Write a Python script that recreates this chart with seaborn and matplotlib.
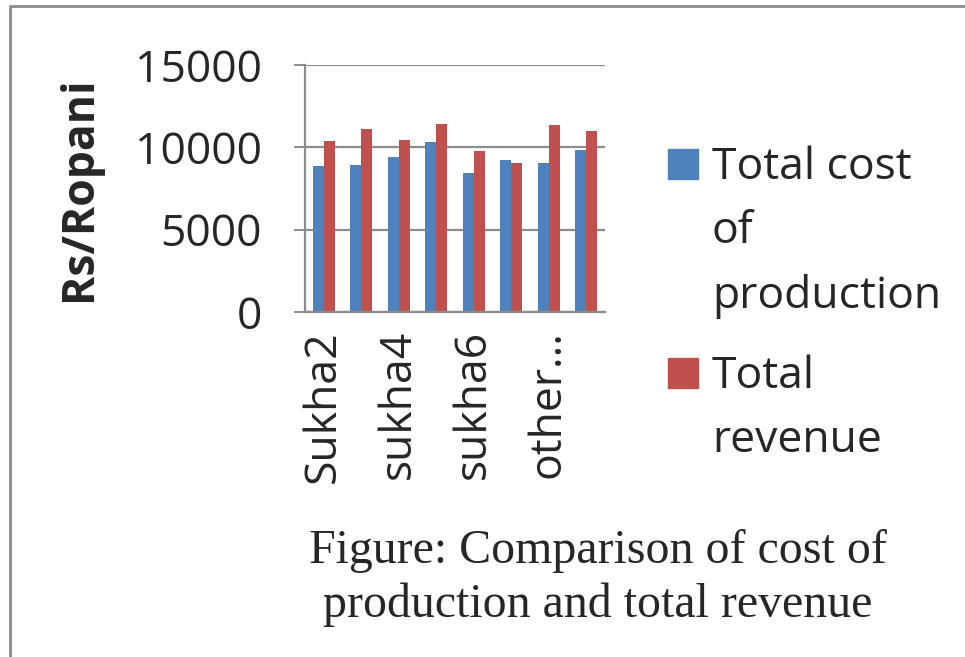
import pandas as pd
import seaborn as sns
import matplotlib.pyplot as plt
from matplotlib.patches import Rectangle
from matplotlib.lines import Line2D

# data (Rs/Ropani)
varieties = ["Sukha2", "sukha3", "sukha4", "sukha5", "sukha6", "sukha7", "other...", "average"]
cost = [8860, 8940, 9420, 10340, 8440, 9260, 9020, 9840]
revenue = [10360, 11100, 10440, 11420, 9800, 9060, 11340, 11000]
series = ["Total cost of production", "Total revenue"]
legend_lines = [["Total cost", "of", "production"], ["Total", "revenue"]]
caption_lines = ["Figure: Comparison of cost of", "production and total revenue"]
colors = ["#4F81BD", "#C0504D"]
y_ticks = [0, 5000, 10000, 15000]

df = pd.DataFrame({
    "variety": varieties * 2,
    "value": cost + revenue,
    "series": [series[0]] * len(varieties) + [series[1]] * len(varieties),
})

sns.set_theme(style="white")
plt.rcParams["font.family"] = ["Open Sans", "DejaVu Sans"]

W, H = 965, 657
fig = plt.figure(figsize=(W / 100, H / 100), dpi=100)
ax = fig.add_axes([305 / W, 1 - 312 / H, 300 / W, (312 - 65) / H])

sns.barplot(data=df, x="variety", y="value", hue="series", palette=colors,
            width=0.58, saturation=1, edgecolor="none", legend=False, ax=ax)

ax.set_ylim(0, 15000)
ax.set_yticks(y_ticks)
ax.set_yticklabels([str(t) for t in y_ticks], fontsize=32)
ax.yaxis.grid(True, color="#8c8c8c", linewidth=1.6)
ax.set_axisbelow(True)
for s in ["top", "right"]:
    ax.spines[s].set_visible(False)
for s in ["left", "bottom"]:
    ax.spines[s].set_color("#8c8c8c")
    ax.spines[s].set_linewidth(1.6)
ax.tick_params(axis="y", length=8, width=1.4, color="#8c8c8c", pad=23, left=True)
ax.tick_params(axis="x", length=0, pad=13)

# only every other category label is shown
ax.set_xticks(range(len(varieties)))
ax.set_xticklabels([v if i % 2 == 0 else "" for i, v in enumerate(varieties)],
                   rotation=90, fontsize=32, va="top", ha="center")
ax.set_xlabel("")
ax.set_ylabel("Rs/Ropani", fontsize=32, fontweight="bold")
ax.yaxis.set_label_coords(-(305 - 102) / 300, 0.5)

# legend drawn by hand, one text per line, marker on the first line
first_baselines = [179, 388]
line_step = 64.5
for lines, col, yb in zip(legend_lines, colors, first_baselines):
    fig.patches.append(Rectangle((668 / W, 1 - yb / H), 30 / W, 30 / H,
                                 transform=fig.transFigure, color=col))
    for i, line in enumerate(lines):
        fig.text(712 / W, 1 - (yb + i * line_step) / H, line, fontsize=32,
                 va="baseline", ha="left")

# caption
for line, yb in zip(caption_lines, [563, 617]):
    fig.text(598 / W, 1 - yb / H, line, family="Liberation Serif", fontsize=34.5,
             ha="center", va="baseline")

# outer frame (left and top edges visible in the original crop)
fig.lines.append(Line2D([9.5 / W, 9.5 / W], [0, 1 - 5.5 / H], transform=fig.transFigure,
                        color="#8c8c8c", linewidth=2))
fig.lines.append(Line2D([9.5 / W, 1], [1 - 5.5 / H, 1 - 5.5 / H], transform=fig.transFigure,
                        color="#8c8c8c", linewidth=2))

fig.savefig("out.png", dpi=100, facecolor="white")
